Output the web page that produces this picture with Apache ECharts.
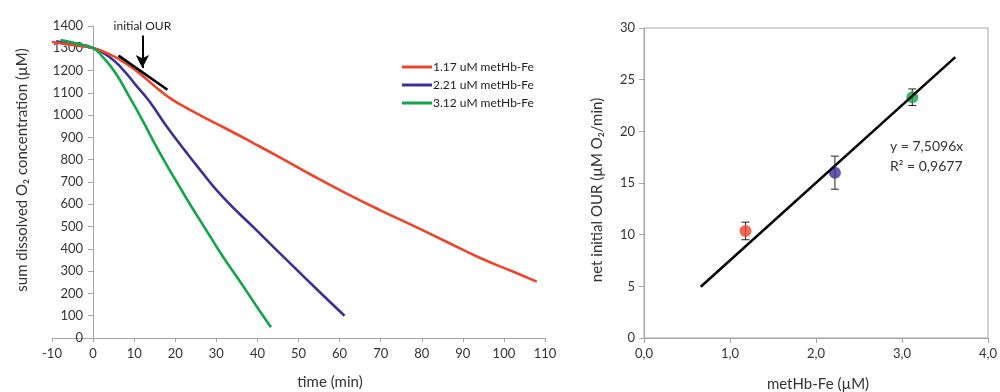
<!DOCTYPE html>
<html>
<head>
<meta charset="utf-8">
<script src="https://cdn.jsdelivr.net/npm/echarts@6/dist/echarts.min.js"></script>
<style>
  html, body { margin: 0; padding: 0; background: #fff; }
  #chart { width: 1000px; height: 392px; }
</style>
</head>
<body>
<div id="chart"></div>
<script>
// Dissolved O2 traces: [time (min), concentration (µM)]
const o2_117 = [[-10,1328],[-5,1315],[0,1301],[3,1281],[7,1244],[11,1192],[15,1130],[19,1073],[23.4,1026],[27,990],[31.5,948],[39.7,868],[46,805],[53.5,728],[61.6,649],[69.8,574],[77.9,504],[86,432],[94.1,360],[102.3,297],[108,253]];
const o2_221 = [[-9,1331],[-5,1317],[0,1301],[3.9,1262],[7.1,1208],[10.4,1135],[13.7,1062],[17.7,955],[22.6,835],[25.9,758],[31.5,634],[39.7,485],[47.8,338],[55.9,193],[61.2,100]];
const o2_312 = [[-7.9,1337],[-4.2,1322],[0,1301],[2.3,1262],[5.5,1188],[8.8,1083],[12,978],[15.3,862],[18.5,758],[21,680],[23.4,606],[27.5,485],[31.5,368],[35.6,258],[39.7,145],[43.3,48]];
const seriesNames = ['1.17 uM metHb-Fe', '2.21 uM metHb-Fe', '3.12 uM metHb-Fe'];
const seriesColors = ['#EE4429', '#3E2F97', '#12A54A'];
// tangent marking the initial uptake rate
const initialTangent = [[6.2,1267],[18.1,1114]];
const arrowX = 12, arrowFrom = 1357, arrowTo = 1212;

// Net initial OUR vs metHb-Fe
const metHbFe = [1.18, 2.22, 3.12];
const netOUR = [10.36, 16.0, 23.3];
const ourErr = [0.85, 1.6, 0.8];
const fitSlope = 7.5096;
const fitR2 = '0,9677';
const fitRange = [0.66, 3.62];

const FONT = 'Lato';
const AXIS = '#a6a6a6';
const TXT = '#333';

const chart = echarts.init(document.getElementById('chart'));

const scatterData = metHbFe.map((x, i) => ({ value: [x, netOUR[i]], itemStyle: { color: seriesColors[i] } }));
const errData = metHbFe.map((x, i) => [x, netOUR[i] - ourErr[i], netOUR[i] + ourErr[i]]);
const fitData = fitRange.map(x => [x, fitSlope * x]);

function errorBar(params, api) {
  const x = api.value(0);
  const lo = api.coord([x, api.value(1)]);
  const hi = api.coord([x, api.value(2)]);
  const w = 4;
  const st = { stroke: '#222', lineWidth: 1 };
  return {
    type: 'group',
    children: [
      { type: 'line', shape: { x1: hi[0], y1: hi[1], x2: lo[0], y2: lo[1] }, style: st },
      { type: 'line', shape: { x1: hi[0] - w, y1: hi[1], x2: hi[0] + w, y2: hi[1] }, style: st },
      { type: 'line', shape: { x1: lo[0] - w, y1: lo[1], x2: lo[0] + w, y2: lo[1] }, style: st }
    ]
  };
}

const axisLabelStyle = { color: TXT, fontFamily: FONT, fontSize: 13 };

chart.setOption({
  animation: false,
  textStyle: { fontFamily: FONT },
  legend: {
    data: seriesNames,
    orient: 'vertical',
    left: 397,
    top: 56,
    itemWidth: 30,
    itemHeight: 3,
    itemGap: 6,
    icon: 'rect',
    textStyle: { color: '#222', fontFamily: FONT, fontSize: 12, padding: [0, 0, 0, -4] }
  },
  grid: [
    { left: 52, top: 26, width: 493, height: 312 },
    { left: 644, top: 28, width: 345, height: 310, show: true, borderColor: AXIS, borderWidth: 1, backgroundColor: 'transparent' }
  ],
  xAxis: [
    {
      gridIndex: 0, type: 'value', min: -10, max: 110, interval: 10,
      axisLine: { lineStyle: { color: AXIS } },
      axisTick: { show: true, length: 4, lineStyle: { color: AXIS } },
      axisLabel: Object.assign({ margin: 9, formatter: v => String(v) }, axisLabelStyle),
      splitLine: { show: false }
    },
    {
      gridIndex: 1, type: 'value', min: 0, max: 4, interval: 1,
      axisLine: { lineStyle: { color: AXIS } },
      axisTick: { show: true, length: 5, lineStyle: { color: AXIS } },
      axisLabel: Object.assign({ margin: 9, formatter: v => v.toFixed(1).replace('.', ',') }, axisLabelStyle),
      splitLine: { show: false }
    }
  ],
  yAxis: [
    {
      // the axis line sits at time 0; labels are pulled in next to it
      gridIndex: 0, type: 'value', min: 0, max: 1400, interval: 100,
      axisLine: { show: true, onZero: true, lineStyle: { color: AXIS } },
      axisTick: { show: true, length: 5, lineStyle: { color: AXIS } },
      axisLabel: Object.assign({ margin: -31, formatter: v => String(v) }, axisLabelStyle),
      splitLine: { show: false }
    },
    {
      gridIndex: 1, type: 'value', min: 0, max: 30, interval: 5,
      axisLine: { show: true, lineStyle: { color: AXIS } },
      axisTick: { show: true, length: 5, lineStyle: { color: AXIS } },
      axisLabel: Object.assign({ margin: 9 }, axisLabelStyle),
      splitLine: { show: false }
    }
  ],
  series: [
    { name: seriesNames[0], type: 'line', xAxisIndex: 0, yAxisIndex: 0, data: o2_117, showSymbol: false, smooth: 0.5, color: seriesColors[0], lineStyle: { width: 2.6 }, z: 3 },
    { name: seriesNames[1], type: 'line', xAxisIndex: 0, yAxisIndex: 0, data: o2_221, showSymbol: false, smooth: 0.5, color: seriesColors[1], lineStyle: { width: 2.6 }, z: 2 },
    { name: seriesNames[2], type: 'line', xAxisIndex: 0, yAxisIndex: 0, data: o2_312, showSymbol: false, smooth: 0.5, color: seriesColors[2], lineStyle: { width: 2.6 }, z: 4 },
    {
      name: 'tangent', type: 'line', xAxisIndex: 0, yAxisIndex: 0, data: initialTangent, showSymbol: false,
      color: '#000', lineStyle: { width: 2.5, color: '#000' }, z: 5, clip: false,
      markLine: {
        silent: true, symbol: ['none', 'arrow'], symbolSize: [10, 13],
        lineStyle: { color: '#000', width: 2, type: 'solid' },
        label: { show: true, position: 'start', formatter: 'initial OUR', color: '#222', fontFamily: FONT, fontSize: 12, distance: 3 },
        data: [[{ coord: [arrowX, arrowFrom] }, { coord: [arrowX, arrowTo] }]]
      }
    },
    { type: 'custom', xAxisIndex: 1, yAxisIndex: 1, data: errData, renderItem: errorBar, z: 2 },
    { type: 'scatter', xAxisIndex: 1, yAxisIndex: 1, data: scatterData, symbolSize: 12, z: 3 },
    { type: 'line', xAxisIndex: 1, yAxisIndex: 1, data: fitData, showSymbol: false, color: '#000', lineStyle: { width: 2.5, color: '#000' }, z: 4 }
  ],
  graphic: [
    { type: 'text', x: 22, y: 170, rotation: Math.PI / 2, style: { text: 'sum dissolved O₂ concentration (µM)', fontFamily: FONT, fontSize: 15, fill: TXT, align: 'center', verticalAlign: 'middle' } },
    { type: 'text', x: 330, y: 382, style: { text: 'time (min)', fontFamily: FONT, fontSize: 15, fill: TXT, align: 'center', verticalAlign: 'middle' } },
    { type: 'text', x: 597, y: 190, rotation: Math.PI / 2, style: { text: 'net initial OUR (µM O₂/min)', fontFamily: FONT, fontSize: 15, fill: TXT, align: 'center', verticalAlign: 'middle' } },
    { type: 'text', x: 818, y: 384, style: { text: 'metHb-Fe (µM)', fontFamily: FONT, fontSize: 15, fill: TXT, align: 'center', verticalAlign: 'middle' } },
    { type: 'text', x: 890, y: 146, style: { text: 'y = ' + String(fitSlope).replace('.', ',') + 'x', fontFamily: FONT, fontSize: 14, fill: TXT, align: 'left', verticalAlign: 'middle' } },
    { type: 'text', x: 890, y: 166, style: { text: 'R² = ' + fitR2, fontFamily: FONT, fontSize: 14, fill: TXT, align: 'left', verticalAlign: 'middle' } }
  ]
});
</script>
</body>
</html>
